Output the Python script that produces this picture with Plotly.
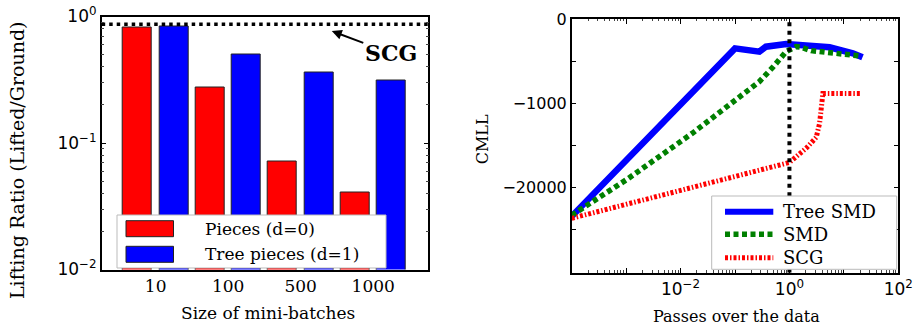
import numpy as np
import plotly.graph_objects as go

# ---------------- data ----------------
# Left panel: lifting ratio per mini-batch size
batch_sizes = ["10", "100", "500", "1000"]
pieces_d0 = [0.82, 0.276, 0.071, 0.0407]
tree_pieces_d1 = [0.83, 0.505, 0.364, 0.311]
scg_ratio = 0.87

# Right panel: CMLL vs passes over the data
tree_smd_x = [1e-4, 0.1, 0.28, 0.37, 0.87, 2.66, 5.47, 14.6, 22]
tree_smd_y = [-56000, -100, -119, -91, -78, -83, -94, -129, -157]
smd_x = [1e-4, 1e-3, 0.0164, 0.104, 0.279, 0.492, 0.703, 0.869, 1.33, 1.64, 2.51, 5.47, 11.1, 21.1]
smd_y = [-54000, -15600, -3000, -895, -445, -248, -165, -119, -91, -94, -113, -126, -136, -148]
scg_x = [1e-4, 1.0, 2.03, 3.11, 3.58, 3.85, 4.12, 20.4]
scg_y = [-60000, -8440, -5100, -3460, -2100, -1290, -700, -700]
cmll_tick_values = [0, -1000, -20000]
cmll_tick_labels = ["0", "\u22121000", "\u221220000"]
one_pass = 1.0

# ---------------- helpers ----------------
W, H = 918, 331
SERIF = "DejaVu Serif"
SANS = "DejaVu Sans"
C = 1000.0 / 18.0


def T(v):
    """Symmetric-log-like transform used for the CMLL axis."""
    return -np.log10(1.0 - np.asarray(v, dtype=float) / C)


def px(x):
    return x / W


def py(y):
    return 1 - y / H


fig = go.Figure()

# ---------------- left panel ----------------
idx = np.arange(len(batch_sizes))
fig.add_trace(go.Bar(x=idx + 0.2, y=pieces_d0, width=0.4, marker=dict(color="#ff0000", line=dict(color="#222", width=1)),
                     xaxis="x", yaxis="y", showlegend=False))
fig.add_trace(go.Bar(x=idx + 0.7, y=tree_pieces_d1, width=0.4, marker=dict(color="#0000ff", line=dict(color="#222", width=1)),
                     xaxis="x", yaxis="y", showlegend=False))
xl_range = [-0.294, 4.21]
fig.add_trace(go.Scatter(x=xl_range, y=[scg_ratio, scg_ratio], mode="lines",
                         line=dict(color="black", width=3.5, dash="3.5px,4px"), xaxis="x", yaxis="y",
                         showlegend=False, hoverinfo="skip", cliponaxis=False))

# ---------------- right panel ----------------
fig.add_trace(go.Scatter(x=tree_smd_x, y=T(tree_smd_y), mode="lines", line=dict(color="#0000ff", width=6.5),
                         xaxis="x2", yaxis="y2", showlegend=False))
fig.add_trace(go.Scatter(x=smd_x, y=T(smd_y), mode="lines", line=dict(color="#008000", width=5.5, dash="5px,3.5px"),
                         xaxis="x2", yaxis="y2", showlegend=False))
fig.add_trace(go.Scatter(x=scg_x, y=T(scg_y), mode="lines", line=dict(color="#ff0000", width=5, dash="3px,2px,1.5px,2px"),
                         xaxis="x2", yaxis="y2", showlegend=False))
yr_range = [-3.862, 0]
fig.add_trace(go.Scatter(x=[one_pass, one_pass], y=yr_range, mode="lines",
                         line=dict(color="black", width=4, dash="4px,4.5px"), xaxis="x2", yaxis="y2",
                         showlegend=False, hoverinfo="skip"))

# ---------------- axes ----------------
frame = dict(showline=True, linecolor="black", linewidth=1.5, mirror="allticks", showgrid=False, zeroline=False,
             automargin=False)

minor_log_l = [d * 10.0 ** k for k in (-2, -1) for d in range(2, 10)]
fig.update_layout(
    xaxis=dict(domain=[px(101.7), px(428.3)], range=xl_range, tickvals=idx + 0.45, ticktext=batch_sizes,
               ticks="", tickfont=dict(family=SERIF, size=17, color="black"), anchor="y", **frame),
    yaxis=dict(domain=[py(269.5), py(16.5)], type="log", range=[-2, 0],
               tickvals=[0.01, 0.1, 1], ticktext=["10<sup>\u22122</sup>", "10<sup>\u22121</sup>", "10<sup>0</sup>"],
               ticks="inside", ticklen=5, tickwidth=1, tickcolor="black",
               minor=dict(tickvals=minor_log_l, ticks="inside", ticklen=2.5, tickwidth=1, tickcolor="#444"),
               tickfont=dict(family=SANS, size=17, color="black"), anchor="x", **frame),
)

maj_x = [10.0 ** k for k in range(-4, 3)]
maj_txt = ["10<sup>%s</sup>" % (str(k).replace("-", "\u2212")) if k in (-2, 0, 2) else "" for k in range(-4, 3)]
minor_log_r = [d * 10.0 ** k for k in range(-4, 2) for d in range(2, 10)]
ymaj = T(cmll_tick_values)
step = (ymaj[1] - ymaj[0]) / 2
ytv = [ymaj[0], ymaj[0] + step, ymaj[1], ymaj[1] + step, ymaj[2], ymaj[2] + step]
ytt = [cmll_tick_labels[0], "", cmll_tick_labels[1], "", cmll_tick_labels[2], ""]
fig.update_layout(
    xaxis2=dict(domain=[px(571.7), px(898.3)], type="log", range=[-4, 2], tickvals=maj_x, ticktext=maj_txt,
                ticks="inside", ticklen=5, tickwidth=1, tickcolor="black",
                minor=dict(tickvals=minor_log_r, ticks="inside", ticklen=2.5, tickwidth=1, tickcolor="#444"),
                tickfont=dict(family=SANS, size=17, color="black"), anchor="y2", **frame),
    yaxis2=dict(domain=[py(272.7), py(19)], range=yr_range, tickvals=ytv, ticktext=ytt,
                ticks="inside", ticklen=5, tickwidth=1, tickcolor="black",
                tickfont=dict(family=SANS, size=16, color="black"), anchor="x2", **frame),
)

# ---------------- legends (drawn manually) ----------------
shapes = []
annotations = []
# left legend
shapes.append(dict(type="rect", xref="paper", yref="paper", x0=px(117), x1=px(386), y0=py(268), y1=py(215),
                   fillcolor="white", line=dict(color="#bbbbbb", width=1), layer="above"))
for yc, col, lab in [(228.7, "#ff0000", "Pieces (d=0)"), (254.3, "#0000ff", "Tree pieces (d=1)")]:
    shapes.append(dict(type="rect", xref="paper", yref="paper", x0=px(126), x1=px(173.5), y0=py(yc + 8), y1=py(yc - 8),
                       fillcolor=col, line=dict(color="#222", width=1), layer="above"))
    annotations.append(dict(xref="paper", yref="paper", x=px(203), y=py(yc), text=lab, showarrow=False,
                            xanchor="left", yanchor="middle", font=dict(family=SERIF, size=17, color="black")))
# right legend
shapes.append(dict(type="rect", xref="paper", yref="paper", x0=px(711.7), x1=px(896.7), y0=py(269.3), y1=py(196),
                   fillcolor="white", line=dict(color="#bbbbbb", width=1), layer="above"))
for yc, col, w, dash, lab in [(211.7, "#0000ff", 6, "solid", "Tree SMD"),
                              (234.3, "#008000", 5.5, "5px,3.5px", "SMD"),
                              (257.7, "#ff0000", 5, "3px,2px,1.5px,2px", "SCG")]:
    shapes.append(dict(type="line", xref="paper", yref="paper", x0=px(725), x1=px(773.3), y0=py(yc), y1=py(yc),
                       line=dict(color=col, width=w, dash=dash), layer="above"))
    annotations.append(dict(xref="paper", yref="paper", x=px(780.7), y=py(yc), text=lab, showarrow=False,
                            xanchor="left", yanchor="middle", font=dict(family=SERIF, size=18, color="black")))

# ---------------- titles & annotation ----------------
annotations += [
    dict(xref="paper", yref="paper", x=px(268), y=py(313), text="Size of mini-batches", showarrow=False,
         xanchor="center", yanchor="middle", font=dict(family=SERIF, size=17, color="black")),
    dict(xref="paper", yref="paper", x=px(17), y=py(161), text="Lifting Ratio (Lifted/Ground)", showarrow=False,
         textangle=-90, xanchor="center", yanchor="middle", font=dict(family=SERIF, size=19, color="black")),
    dict(xref="paper", yref="paper", x=px(736.7), y=py(316.7), text="Passes over the data", showarrow=False,
         xanchor="center", yanchor="middle", font=dict(family=SERIF, size=16, color="black")),
    dict(xref="paper", yref="paper", x=px(483.3), y=py(139), text="CMLL", showarrow=False,
         textangle=-90, xanchor="center", yanchor="middle", font=dict(family=SERIF, size=16, color="black")),
    dict(xref="x", yref="y", x=2.879, y=np.log10(scg_ratio) - 0.055, ax=59, ay=22, axref="pixel", ayref="pixel",
         text="<b>SCG</b>", showarrow=True, arrowhead=2, arrowsize=1, arrowwidth=2, arrowcolor="black",
         standoff=0, font=dict(family=SERIF, size=22, color="black")),
]

fig.update_layout(width=W, height=H, margin=dict(l=0, r=0, t=0, b=0), paper_bgcolor="white", plot_bgcolor="white",
                  shapes=shapes, annotations=annotations, bargap=0, barmode="overlay")

fig.write_html("out.html")
